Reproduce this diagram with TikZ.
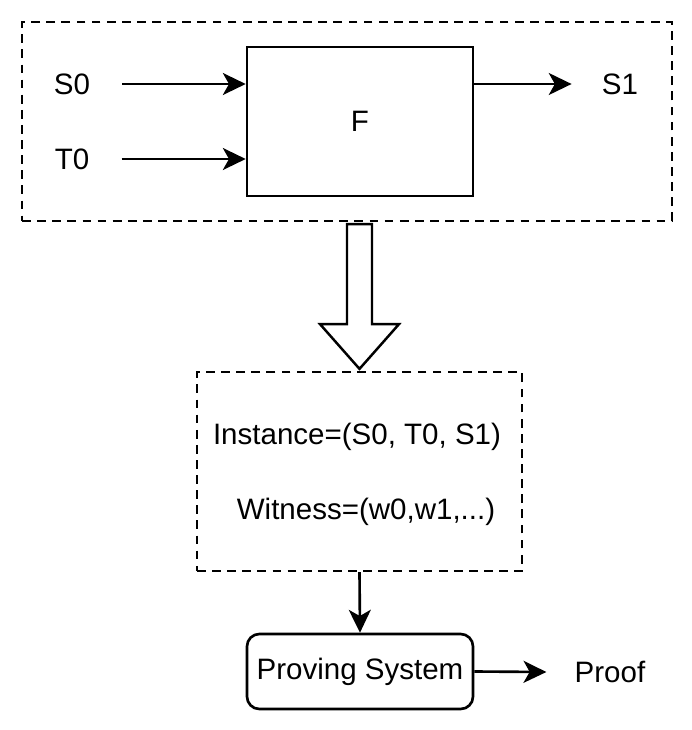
\documentclass[tikz,border=0pt]{standalone}
\usepackage{fontspec}
\setmainfont{Liberation Sans}
\usetikzlibrary{positioning, arrows.meta, calc}

\begin{document}
\begin{tikzpicture}[
    x=0.02cm, y=-0.02cm,
    every node/.style={font=\fontsize{16.8}{20}\selectfont},
    frame/.style={draw, dash pattern=on 5pt off 3.6pt, line width=1.3pt},
    block/.style={draw, line width=1.5pt, minimum width=4.52cm},
    label/.style={inner sep=0pt},
    link/.style={-{Stealth[length=13pt, width=12.5pt, inset=3.5pt]}, line width=1.5pt}
]
    \useasboundingbox (0,0) rectangle (692,730);

    % function part
    \node[frame, minimum width=13cm, minimum height=3.98cm] (outer) at (347,121.5) {};
    \node[block, minimum height=2.98cm] (fbox) at (360,121.5) {F};
    \node[label] (s0) at (72,84) {S0};
    \node[label] (t0) at (72,159) {T0};
    \node[label] (s1) at (620,84) {S1};

    \draw[link] ($(s0.east)+(32,0)$) -- (s0 -| fbox.west);
    \draw[link] ($(t0.east)+(32,0)$) -- (t0 -| fbox.west);
    \draw[link] (fbox.east |- s1) -- ($(s1.west)+(-30,0)$);

    % circuit
    \node[frame, minimum width=6.5cm, minimum height=3.98cm] (circuit) at (359.5,471.5) {};
    \node[label] (instance) at (357,437) {Instance=(S0, T0, S1)};
    \node[label] (witness) at (366,512) {Witness=(w0,w1,...)};

    % big arrow
    \coordinate (tail) at (circuit.north |- outer.south);
    \draw[line width=1.4pt, fill=white]
        ($(tail)+(-12.5,2)$) -- ($(tail)+(12.5,2)$) -- ($(tail)+(12.5,102)$)
        -- ($(tail)+(39.5,102)$) -- ($(circuit.north)+(0,-2)$)
        -- ($(tail)+(-39.5,102)$) -- ($(tail)+(-12.5,102)$) -- cycle;

    % prover
    \node[block, minimum height=1.5cm, rounded corners=7pt] (prover) at (360,671.5) {Proving System};
    \node[label] (proof) at (610,672) {Proof};

    \draw[link] (circuit.south) -- (prover.north);
    \draw[link] (prover.east) -- ($(proof.west)+(-28,0)$);
\end{tikzpicture}
\end{document}
